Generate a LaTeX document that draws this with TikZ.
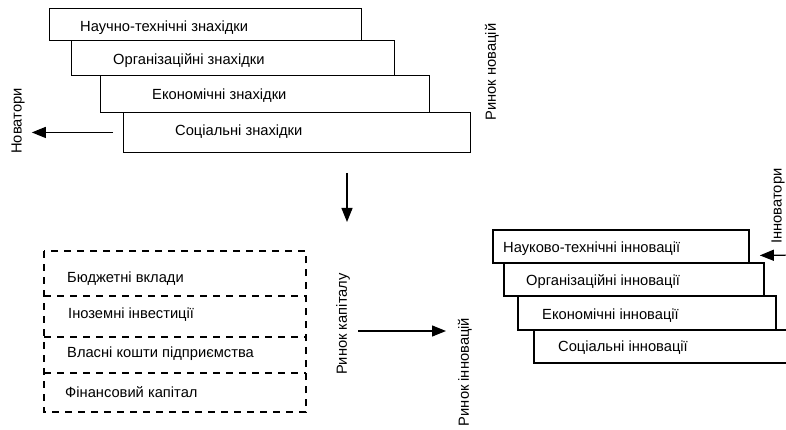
\documentclass[tikz,border=0pt]{standalone}
\usepackage{fontspec}
\setmainfont{Liberation Sans}
\usetikzlibrary{arrows.meta, calc}

\begin{document}
\begin{tikzpicture}[
    x=1pt, y=-1pt,
    every node/.style={font=\fontsize{14.7}{17}\selectfont},
    findbox/.style={draw, fill=white, line width=0.9pt, inner sep=0pt,
                    anchor=north west},
    innbox/.style={draw, fill=white, line width=1.8pt, inner sep=0pt,
                   anchor=north west},
    lbl/.style={anchor=west, inner sep=0pt},
    vlbl/.style={rotate=90, inner sep=0pt},
    dsh/.style={dashed, dash pattern=on 7pt off 6pt, line width=1.1pt},
    arr/.style={-{Triangle[length=14pt, width=11pt]}, line width=1.2pt}
]
\useasboundingbox (0,0) rectangle (786,430);
% Top block: findings
\node[findbox, minimum width=312pt, minimum height=32pt] (f1) at (49,8) {};
\node[findbox, minimum width=323pt, minimum height=35pt] (f2) at (71,40) {};
\node[findbox, minimum width=329pt, minimum height=37pt] (f3) at (100,75) {};
\node[findbox, minimum width=347pt, minimum height=40pt] (f4) at (123,112) {};
\node[lbl] (t1) at ($(f1.west)+(31,3)$) {Научно-технічні знахідки};
\node[lbl] (t2) at ($(f2.west)+(42,3)$) {Організаційні знахідки};
\node[lbl] (t3) at ($(f3.west)+(52,2)$) {Економічні знахідки};
\node[lbl] (t4) at ($(f4.west)+(52,-1)$) {Соціальні знахідки};
\node[vlbl] (novatory) at (18,121) {Новатори};
\node[vlbl] (rnov) at (492,72) {Ринок новацій};
\draw[arr] ($(f4.west)+(-10,0)$) -- ($(f4.west -| novatory.south)+(7,0)$);
% Down arrow
\coordinate (dtop) at (347,173);
\coordinate (dbot) at (347,222);
\draw[arr] (dtop) -- (dbot);
% Capital sources, dashed
\node[lbl] (c1) at (67,279) {Бюджетні вклади};
\node[lbl] (c2) at (68,315) {Іноземні інвестиції};
\node[lbl] (c3) at (67,354) {Власні кошти підприємства};
\node[lbl] (c4) at (65,392) {Фінансовий капітал};
\draw[dsh] (44,251) rectangle (306,412);
\draw[dsh] (44,296) -- (306,296);
\draw[dsh] (44,337) -- (306,337);
\draw[dsh] (44,373) -- (306,373);
\node[vlbl] (rkap) at (343,324) {Ринок капіталу};
\node[vlbl] (rinn) at (465,372) {Ринок інновацій};
\coordinate (hleft) at (358,331);
\coordinate (hright) at (446,331);
\draw[arr] (hleft) -- (hright);
% Right block: innovations
\node[innbox, minimum width=256pt, minimum height=33pt] (i1) at (492,229) {};
\node[innbox, minimum width=260pt, minimum height=33pt] (i2) at (503,262) {};
\node[innbox, minimum width=258pt, minimum height=34pt] (i3) at (517,295) {};
\node[innbox, minimum width=270pt, minimum height=33pt] (i4) at (533,329) {};
\node[lbl] (u1) at ($(i1.west)+(11,2)$) {Науково-технічні інновації};
\node[lbl] (u2) at ($(i2.west)+(23,2)$) {Організаційні інновації};
\node[lbl] (u3) at ($(i3.west)+(25,3)$) {Економічні інновації};
\node[lbl] (u4) at ($(i4.west)+(25,1)$) {Соціальні інновації};
\node[vlbl] (innovatory) at (778,206) {Інноватори};
\coordinate (rstart) at (800,255);
\draw[arr] (rstart) -- ($(i1.east)+(10,9)$);
\end{tikzpicture}
\end{document}
